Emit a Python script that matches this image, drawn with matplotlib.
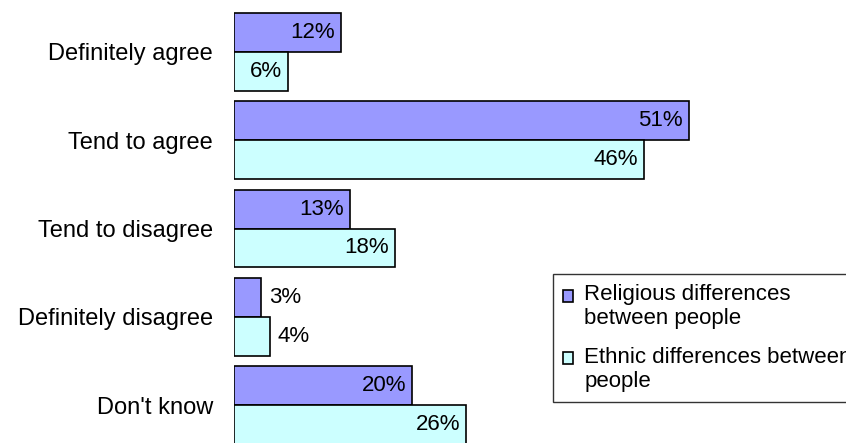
import numpy as np
import matplotlib.pyplot as plt
from matplotlib.patches import Rectangle
from matplotlib.container import BarContainer
from matplotlib.legend_handler import HandlerPatch, update_from_first_child

categories = ['Definitely agree', 'Tend to agree', 'Tend to disagree',
              'Definitely disagree', "Don't know"]
religious = [12, 51, 13, 3, 20]
ethnic = [6, 46, 18, 4, 26]
series_names = ['Religious differences\nbetween people',
                'Ethnic differences between\npeople']

plt.rcParams['font.family'] = ['Liberation Sans', 'DejaVu Sans']

W, H = 846, 443
fig = plt.figure(figsize=(W / 100, H / 100), dpi=100)
ax = fig.add_axes([234 / W, 0, 1 - 234 / W, 1])

y = np.arange(len(categories))
bh = 0.44
b1 = ax.barh(y - bh / 2, religious, height=bh, color='#9999FF',
             edgecolor='black', linewidth=1.2, label=series_names[0])
b2 = ax.barh(y + bh / 2, ethnic, height=bh, color='#CCFFFF',
             edgecolor='black', linewidth=1.2, label=series_names[1])

ax.set_xlim(0, 612 / 8.92)
ax.set_ylim(4.43, -0.589)

for bars, vals in ((b1, religious), (b2, ethnic)):
    for bar, v in zip(bars, vals):
        yc = bar.get_y() + bar.get_height() / 2
        if v >= 6:
            ax.annotate('{}%'.format(v), (v, yc), xytext=(-6, 0),
                        textcoords='offset pixels', ha='right', va='center',
                        fontsize=16)
        else:
            ax.annotate('{}%'.format(v), (v, yc), xytext=(8, 0),
                        textcoords='offset pixels', ha='left', va='center',
                        fontsize=16)

ax.set_yticks(y)
ax.set_yticklabels(categories, fontsize=17)
ax.tick_params(axis='y', length=0, pad=15)
ax.set_xticks([])
for s in ax.spines.values():
    s.set_visible(False)

# square marker next to the first line of each two-line label
def top_square(legend, orig_handle, xdescent, ydescent, width, height, fontsize):
    return Rectangle((-xdescent, -ydescent + 0.5 * fontsize), width, height)

handler = HandlerPatch(patch_func=top_square, update_func=update_from_first_child)
leg = fig.legend(handles=[b1, b2], loc='upper left',
                 bbox_to_anchor=(553 / W, 1 - 274 / H), fontsize=16,
                 frameon=True, fancybox=False, edgecolor='black',
                 handlelength=0.45, handleheight=0.45, handletextpad=0.5,
                 borderpad=0.45, labelspacing=0.78, borderaxespad=0,
                 handler_map={BarContainer: handler})
leg.get_frame().set_linewidth(1.0)

fig.savefig('out.png', dpi=100)
